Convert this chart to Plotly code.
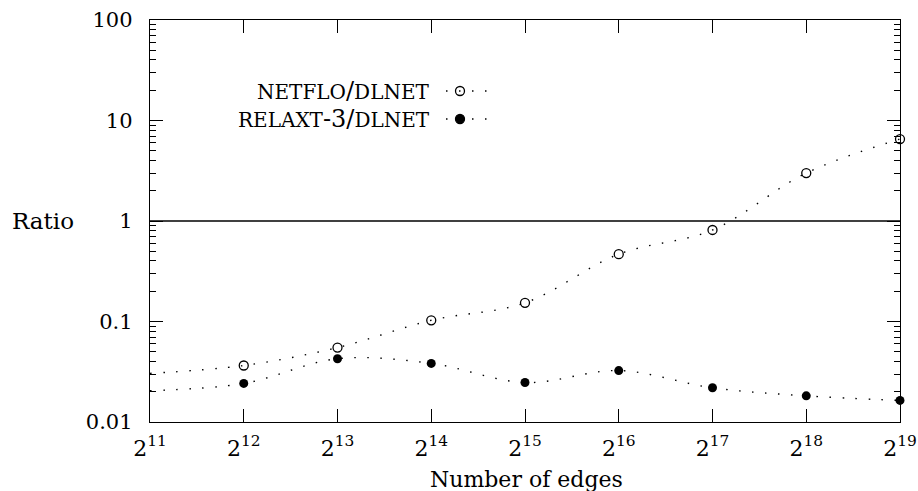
import plotly.graph_objects as go

# ---- data ----
exponents = [11, 12, 13, 14, 15, 16, 17, 18, 19]
netflo_ratio = [0.0305, 0.0365, 0.0550, 0.1028, 0.1535, 0.468, 0.814, 3.00, 6.54]
relaxt_ratio = [0.0205, 0.0242, 0.0426, 0.0383, 0.0247, 0.0325, 0.0219, 0.0182, 0.0164]
x_tick_labels = ["2<sup>%d</sup>" % e for e in exponents]
y_major = [0.01, 0.1, 1, 10, 100]
y_major_labels = ["0.01", "0.1", "1", "10", "100"]

edges = [2 ** e for e in exponents]
y_minor = [m * d for d in [0.01, 0.1, 1, 10] for m in range(2, 10)]

FONT = "DejaVu Serif"
W, H = 918, 491
L, R, T, B = 150, 18, 20, 69
PW, PH = W - L - R, H - T - B

def px2x(px):
    return (px - L) / PW

def px2y(py):
    return (H - B - py) / PH

dot_line = dict(color="black", width=1.4, dash="1.5px,11.5px", shape="spline", smoothing=1.0)

fig = go.Figure()
fig.add_trace(go.Scatter(
    x=edges, y=netflo_ratio, mode="lines+markers", name="NETFLO/DLNET",
    line=dot_line,
    marker=dict(symbol="circle-open", size=9, color="black", line=dict(width=1.3, color="black")),
    showlegend=False, cliponaxis=False))
fig.add_trace(go.Scatter(
    x=edges, y=relaxt_ratio, mode="lines+markers", name="RELAXT-3/DLNET",
    line=dot_line,
    marker=dict(symbol="circle", size=9, color="black"),
    showlegend=False, cliponaxis=False))

# legend samples on an overlay axis in paper-like units
for py, sym in [(91, "circle-open"), (119, "circle")]:
    fig.add_trace(go.Scatter(
        x=[px2x(446), px2x(488)], y=[px2y(py), px2y(py)], mode="lines",
        line=dict(color="black", width=1.4, dash="1.5px,11.5px"),
        xaxis="x2", yaxis="y2", showlegend=False, hoverinfo="skip"))
    fig.add_trace(go.Scatter(
        x=[px2x(460)], y=[px2y(py)], mode="markers",
        marker=dict(symbol=sym, size=9, color="black", line=dict(width=1.3, color="black")),
        xaxis="x2", yaxis="y2", showlegend=False, hoverinfo="skip"))

def sc(word_parts):
    out = ""
    for kind, txt in word_parts:
        if kind == "sc":
            out += '<span style="font-size:20px">%s</span>' % txt
        else:
            out += txt
    return out

legend_texts = [
    (91, sc([("sc", "NETFLO"), ("n", "/"), ("sc", "DLNET")])),
    (119, sc([("sc", "RELAXT"), ("n", "-3"), ("n", "/"), ("sc", "DLNET")])),
]
annotations = []
for py, txt in legend_texts:
    annotations.append(dict(
        x=px2x(432), y=px2y(py), xref="paper", yref="paper", text=txt,
        xanchor="right", yanchor="middle", showarrow=False,
        font=dict(family=FONT, size=24, color="black")))

annotations.append(dict(
    x=px2x(10), y=0.5, xref="paper", yref="paper", text="Ratio",
    xanchor="left", yanchor="middle", showarrow=False,
    font=dict(family=FONT, size=23, color="black")))

annotations.append(dict(
    x=px2x(526), y=px2y(479), xref="paper", yref="paper", text="Number of edges",
    xanchor="center", yanchor="middle", showarrow=False,
    font=dict(family=FONT, size=22, color="black")))

fig.update_layout(
    width=W, height=H,
    margin=dict(l=L, r=R, t=T, b=B, pad=0, autoexpand=False),
    paper_bgcolor="white", plot_bgcolor="white",
    font=dict(family=FONT, size=21, color="black"),
    annotations=annotations,
    shapes=[dict(type="line", xref="paper", x0=0, x1=1, yref="y", y0=1, y1=1,
                 line=dict(color="black", width=1.4))],
    xaxis=dict(
        type="log", range=[11 * 0.30103, 19 * 0.30103], automargin=False,
        tickvals=edges, ticktext=x_tick_labels,
        ticks="inside", ticklen=13, tickwidth=1, tickcolor="black",
        showline=True, linecolor="black", linewidth=1.4, mirror="ticks",
        showgrid=False, zeroline=False, ticklabelstandoff=6,
        tickfont=dict(family=FONT, size=22, color="black"),
    ),
    yaxis=dict(
        type="log", range=[-2, 2], automargin=False,
        tickvals=y_major, ticktext=y_major_labels,
        ticks="inside", ticklen=13, tickwidth=1, tickcolor="black",
        minor=dict(tickvals=y_minor, ticks="inside", ticklen=6, tickwidth=1, tickcolor="black", showgrid=False),
        showline=True, linecolor="black", linewidth=1.4, mirror="ticks",
        showgrid=False, zeroline=False, ticklabelstandoff=12,
        tickfont=dict(family=FONT, size=21, color="black"),
    ),
    xaxis2=dict(overlaying="x", range=[0, 1], visible=False, fixedrange=True),
    yaxis2=dict(overlaying="y", range=[0, 1], visible=False, fixedrange=True),
)

fig.write_html("out.html")
